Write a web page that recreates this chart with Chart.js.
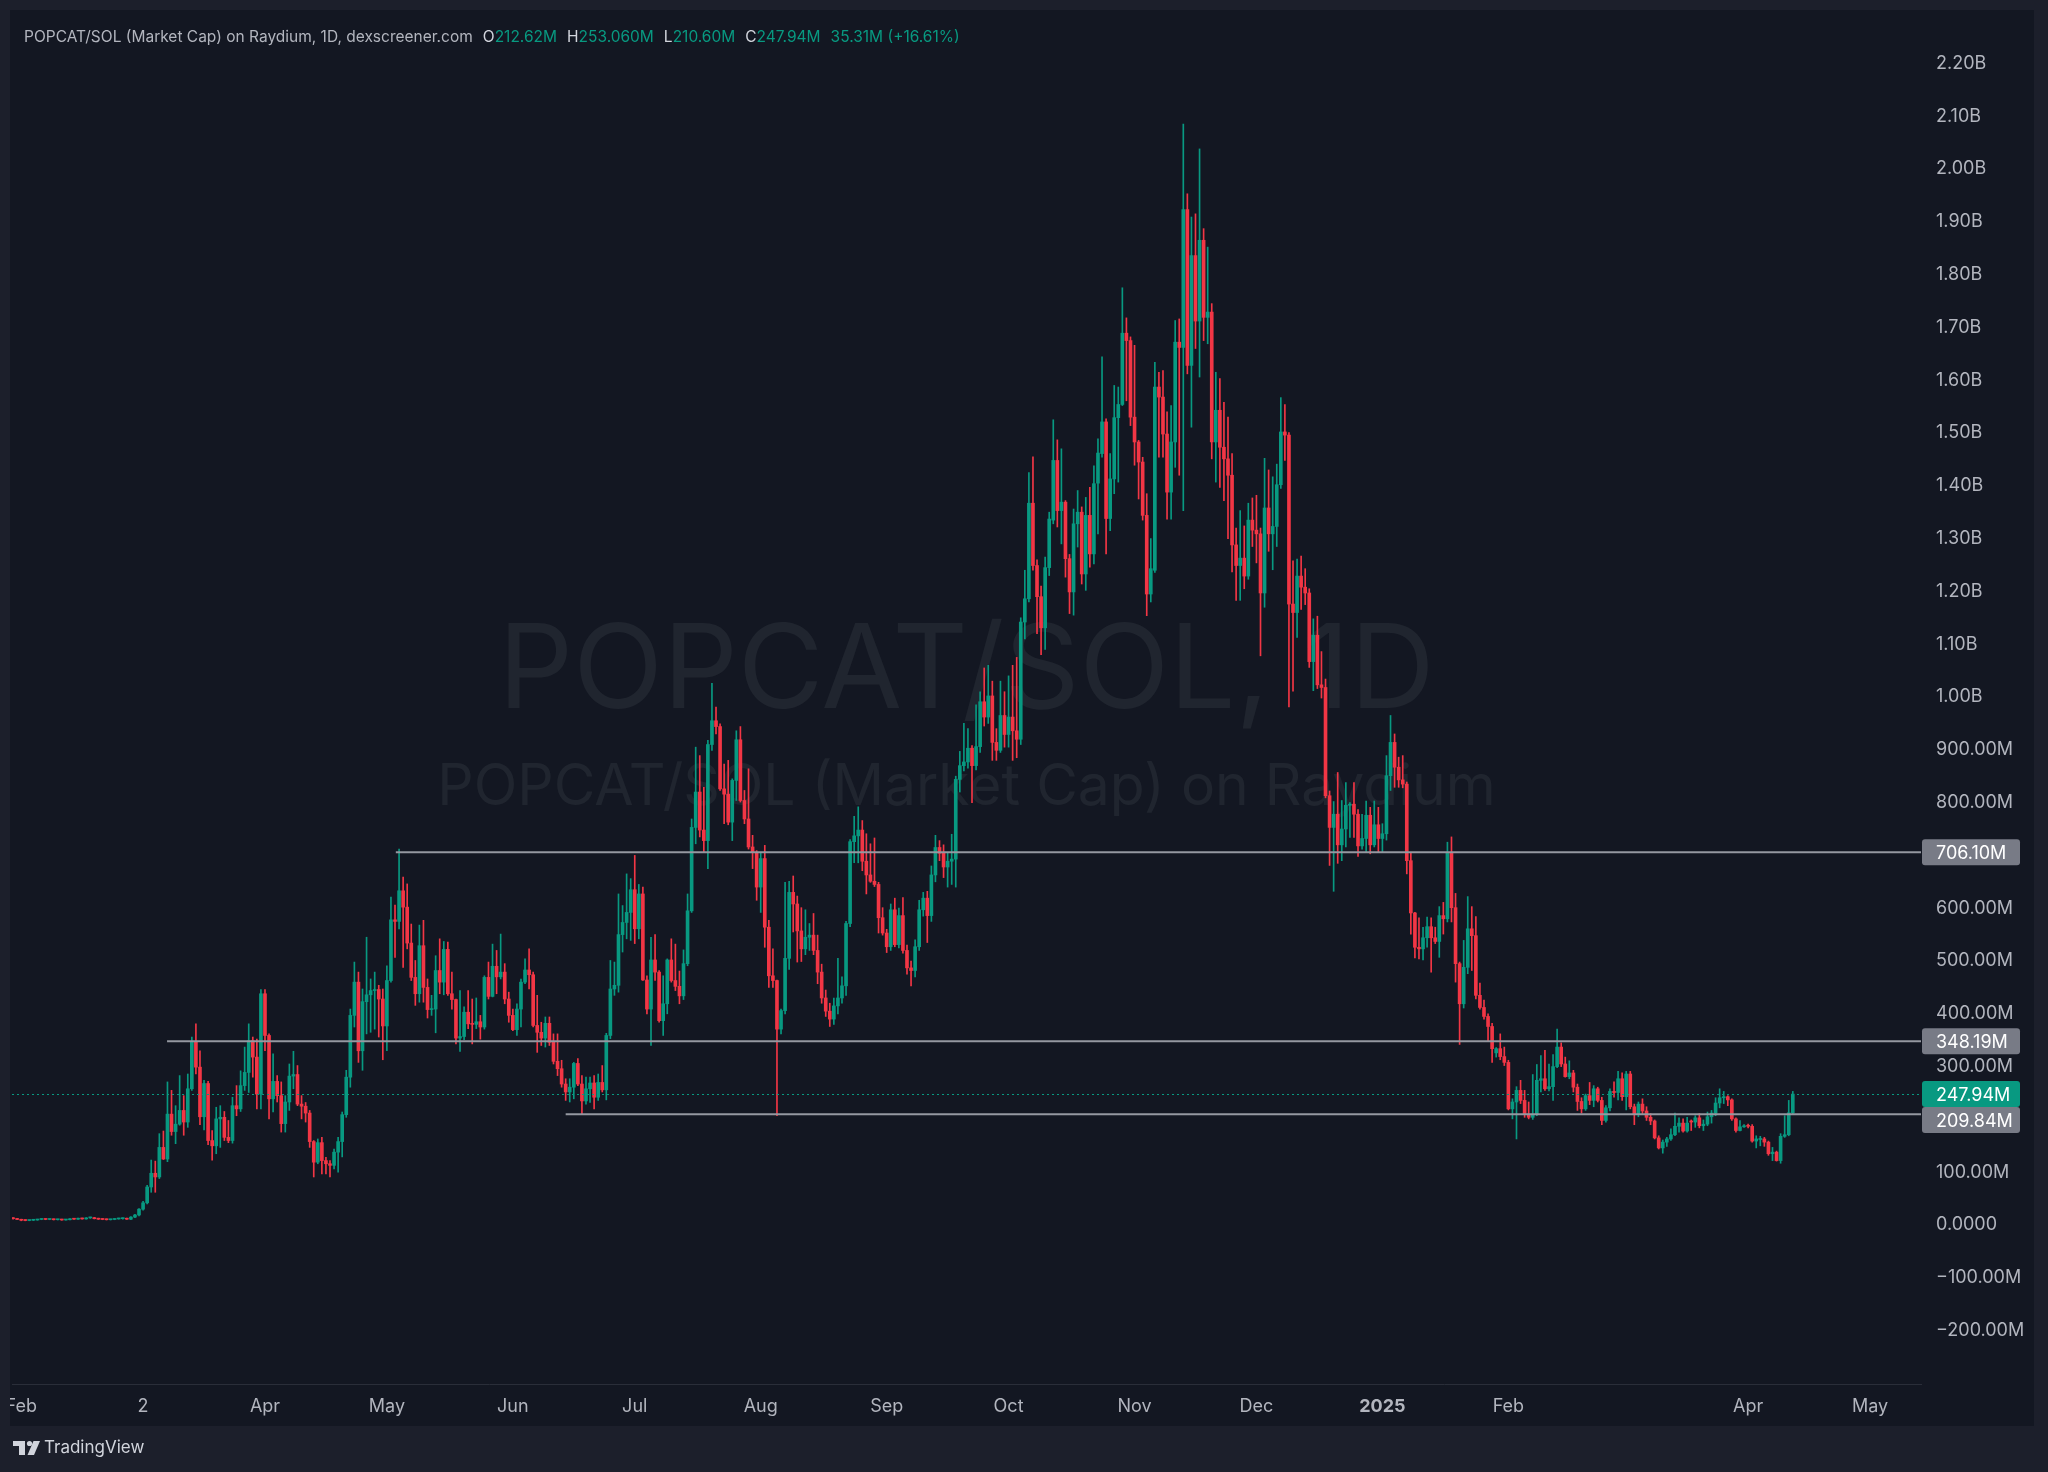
<!DOCTYPE html>
<html lang="en">
<head>
<meta charset="UTF-8">
<title>POPCAT/SOL (Market Cap) on Raydium, 1D</title>
<script src="https://cdn.jsdelivr.net/npm/chart.js"></script>
<style>
  html, body { margin: 0; padding: 0; background: #1c1f2b; }
  canvas { display: block; }
</style>
</head>
<body>
<canvas id="grafico" width="2048" height="1472"></canvas>
<script>
// one candle per day, day 0 = 1 Feb 2024, values in millions
var firstDay = -2;

var open = [
  13,12,10.5,9,8.5,9,9.5,10.5,11.5,10.5,
  11,10,10.5,9.5,10,11.5,11,12.5,11.5,13.5,
  14,12,11,10.5,10,10.5,11.5,12,12.5,11,
  15,19,30,42,72,98,91,147,125,210,
  177,191,217,195,258,346,299,205,268,160,
  150,201,204,166,160,226,220,264,289,349,
  318,248,438,359,239,272,245,192,233,282,
  285,229,225,212,158,119,156,122,116,113,
  138,158,209,280,397,460,330,423,436,444,
  446,428,377,463,578,575,633,602,534,469,
  438,529,450,408,409,482,460,522,438,427,
  354,357,403,381,380,385,375,469,433,490,
  470,479,428,397,370,409,460,483,474,378,
  365,354,382,346,310,296,267,252,261,306,
  267,235,258,269,242,270,256,359,447,454,
  550,573,592,635,561,627,464,409,502,479,
  387,419,502,463,452,434,495,595,753,820,
  748,728,910,955,944,826,816,763,842,919,
  804,769,716,706,640,694,564,472,463,371,
  406,505,630,608,557,523,545,549,520,479,
  430,405,390,415,430,453,571,726,737,748,
  689,663,651,645,582,553,527,597,531,586,
  520,487,482,527,597,619,586,663,715,704,
  678,689,693,844,870,877,903,870,906,991,
  962,1002,914,899,965,929,962,936,920,1142,
  1186,1367,1249,1190,1131,1245,1335,1448,1353,1369,
  1262,1199,1328,1350,1233,1344,1271,1405,1461,1521,
  1338,1413,1529,1554,1689,1675,1530,1483,1445,1344,
  1195,1240,1587,1568,1498,1388,1483,1672,1662,1923,
  1628,1836,1712,1865,1719,1729,1483,1543,1473,1451,
  1420,1288,1249,1263,1229,1335,1316,1309,1197,1358,
  1309,1323,1402,1502,1496,1176,1160,1229,1208,1197,
  1067,1117,1023,1018,813,753,778,720,750,795,
  797,778,718,732,776,720,758,732,741,851,
  914,867,843,835,690,591,526,523,544,565,
  544,537,586,580,706,601,495,419,488,561,
  548,435,412,395,376,326,334,319,308,220,
  233,255,236,210,204,210,274,277,258,262,
  300,337,305,281,288,261,234,220,245,236,
  258,236,198,222,253,251,277,243,286,224,
  209,229,216,204,197,165,146,157,163,171,
  187,193,178,197,195,203,188,191,205,212,
  231,241,243,237,201,179,186,188,187,159,
  162,163,157,135,138,122,168,171,212.62
];
var high = [
  14,12.5,11,10,9.5,10,11,12,12,11.5,
  11.5,11,11,10.5,12,12.5,13,13,14,15,
  14.5,13,12,11.5,11,12,13,13.5,13,16,
  20,31,45,75,123,121,173,178,271,255,
  226,283,245,286,356,381,330,274,272,179,
  223,226,215,198,242,264,292,337,381,356,
  352,446,446,362,324,283,271,245,305,329,
  302,245,232,217,160,163,166,128,122,144,
  166,214,293,409,498,479,447,545,466,479,
  454,447,491,621,606,712,659,646,570,501,
  568,577,466,435,510,542,537,536,479,428,
  444,413,444,428,430,397,472,498,532,520,
  551,495,441,409,419,466,504,523,479,435,
  384,394,394,362,362,312,277,277,308,315,
  283,280,280,283,286,302,363,501,498,627,
  605,665,656,700,645,640,472,545,550,482,
  472,504,542,532,481,521,627,769,905,889,
  829,918,1026,981,949,873,880,845,936,944,
  823,864,738,709,706,719,577,523,464,409,
  649,651,661,623,601,597,571,590,549,494,
  445,420,430,505,470,575,730,774,792,766,
  741,722,733,649,601,560,608,619,600,620,
  530,500,540,615,630,632,680,738,728,720,
  705,740,850,897,950,940,908,985,1010,1055,
  1060,1030,940,1030,1010,1040,1060,1075,1150,1240,
  1425,1455,1260,1210,1265,1350,1525,1487,1470,1372,
  1270,1356,1391,1360,1378,1397,1438,1489,1644,1527,
  1461,1590,1587,1775,1718,1682,1666,1486,1454,1385,
  1300,1634,1615,1618,1540,1552,1713,1716,2085,1953,
  1909,1915,2038,1887,1852,1745,1615,1603,1558,1530,
  1461,1320,1353,1324,1367,1377,1382,1320,1452,1430,
  1417,1441,1567,1554,1501,1258,1261,1267,1243,1205,
  1148,1153,1086,1034,822,802,857,804,838,800,
  838,787,778,803,791,803,791,760,889,965,
  930,886,889,839,706,592,582,564,583,582,
  564,603,611,725,735,628,498,539,622,603,
  584,458,426,400,382,336,362,337,312,239,
  262,274,255,233,285,304,321,331,305,323,
  371,345,318,311,293,267,241,248,270,264,
  261,242,226,258,271,291,288,291,291,229,
  233,239,224,211,199,169,161,166,182,212,
  203,201,204,199,207,211,199,214,217,241,
  258,253,245,239,203,198,190,191,190,169,
  168,166,159,147,140,173,207,236,253.06
];
var low = [
  11,10,8,8,8,8.5,9,10,10,10,
  9.5,9.5,9,9,9.5,10.5,10.5,11,11,12.5,
  11.5,10.5,10,9.5,9.5,10,11,11,10.5,10,
  14,17,28,40,62,62,88,124,120,170,
  154,189,170,185,255,286,190,180,152,123,
  135,147,160,156,155,207,215,255,251,280,
  220,220,330,201,214,233,176,176,217,258,
  226,201,195,147,91,116,97,97,91,106,
  100,129,204,261,375,308,293,362,365,371,
  356,313,330,460,507,561,488,523,463,416,
  422,422,392,397,364,438,436,435,409,343,
  329,351,372,343,372,352,371,428,432,438,
  466,419,384,368,359,375,457,447,375,327,
  340,337,340,305,283,261,236,233,239,264,
  210,229,232,220,236,252,237,353,435,441,
  517,542,539,533,542,463,400,340,463,384,
  359,400,460,444,419,427,491,592,722,735,
  706,675,899,930,823,760,758,728,804,801,
  760,712,675,615,592,526,450,450,207,362,
  400,484,555,498,499,512,520,512,457,420,
  395,376,380,400,420,435,565,686,686,671,
  627,649,641,553,549,516,520,527,525,515,
  475,453,470,520,585,535,575,650,690,658,
  640,645,640,820,860,865,800,862,895,945,
  950,880,880,895,905,905,880,885,910,1110,
  1180,1240,1120,1080,1090,1230,1328,1322,1290,1227,
  1158,1155,1284,1214,1202,1246,1252,1309,1454,1271,
  1315,1385,1407,1552,1561,1514,1439,1375,1335,1154,
  1180,1236,1454,1454,1337,1337,1435,1420,1353,1612,
  1511,1660,1606,1675,1669,1451,1407,1397,1372,1300,
  1237,1183,1183,1205,1223,1285,1254,1078,1170,1276,
  1241,1285,1395,1448,981,1011,1113,1166,1175,1056,
  1012,1016,998,809,681,632,685,690,716,734,
  734,698,712,707,703,716,707,707,729,823,
  829,829,828,665,551,506,504,502,526,479,
  533,507,551,574,574,460,342,411,476,482,
  428,409,390,349,308,318,313,302,218,201,
  163,230,204,201,200,207,252,255,254,236,
  298,300,280,277,252,217,212,217,228,224,
  233,190,195,216,242,237,236,218,220,190,
  205,211,198,190,163,144,136,149,160,169,
  176,176,176,179,185,184,179,188,193,207,
  222,230,226,198,176,178,185,184,157,146,
  150,149,132,122,121,117,166,169,210.60
];
var close = [
  12,10.5,9,8.5,9,9.5,10.5,11.5,10.5,11,
  10,10.5,9.5,10,11.5,11,12.5,11.5,13.5,14,
  12,11,10.5,10,10.5,11.5,12,12.5,11,15,
  19,30,42,72,98,91,147,125,210,177,
  191,217,195,258,346,299,205,268,160,150,
  201,204,166,160,226,220,264,289,349,318,
  248,438,359,239,272,245,192,233,282,285,
  229,225,212,158,119,156,122,116,113,138,
  158,209,280,397,460,330,423,436,444,446,
  428,377,463,578,575,633,602,534,469,438,
  529,450,408,409,482,460,522,438,427,354,
  357,403,381,380,385,375,469,433,490,470,
  479,428,397,370,409,460,483,474,378,365,
  354,382,346,310,296,267,252,261,306,267,
  235,258,269,242,270,256,359,447,454,550,
  573,592,635,561,627,464,409,502,479,387,
  419,502,463,452,434,495,595,753,820,748,
  728,910,955,944,826,816,763,842,919,804,
  769,716,706,640,694,564,472,463,371,406,
  505,630,608,557,523,545,549,520,479,430,
  405,390,415,430,453,571,726,737,748,689,
  663,651,645,582,553,527,597,531,586,520,
  487,482,527,597,619,586,663,715,704,678,
  689,693,844,870,877,903,870,906,991,962,
  1002,914,899,965,929,962,936,920,1142,1186,
  1367,1249,1190,1131,1245,1337,1448,1353,1369,1262,
  1199,1328,1350,1233,1344,1271,1404,1462,1521,1338,
  1413,1529,1554,1689,1675,1530,1483,1445,1344,1195,
  1243,1587,1568,1498,1388,1483,1672,1662,1923,1628,
  1836,1712,1865,1719,1729,1483,1543,1473,1451,1420,
  1288,1249,1263,1229,1335,1316,1309,1197,1358,1309,
  1323,1402,1502,1496,1176,1160,1229,1208,1197,1067,
  1117,1023,1018,813,753,778,720,750,795,797,
  778,718,732,776,720,758,732,741,851,914,
  867,843,835,690,591,526,523,544,565,544,
  537,586,580,706,601,495,419,488,561,548,
  435,412,395,376,334,334,319,308,220,233,
  255,236,210,204,210,274,277,258,262,300,
  337,305,281,288,261,234,220,245,236,258,
  236,198,222,253,251,277,243,286,224,209,
  229,216,204,197,165,146,157,163,171,187,
  193,178,193,195,203,188,191,205,212,231,
  241,243,237,201,179,186,188,187,159,163,
  163,157,135,138,122,168,171,212.6,247.94
];

var priceTicks = [-200, -100, 0, 100, 200, 300, 400, 500, 600, 700, 800, 900, 1000,
  1100, 1200, 1300, 1400, 1500, 1600, 1700, 1800, 1900, 2000, 2100, 2200];
var monthTickDays = [0, 30, 60, 90, 121, 151, 182, 213, 243, 274, 304, 335, 366, 425, 455];
var monthTickLabels = ['Feb', '2', 'Apr', 'May', 'Jun', 'Jul', 'Aug', 'Sep', 'Oct', 'Nov', 'Dec', '2025', 'Feb', 'Apr', 'May'];

// horizontal rays drawn on the chart
var levelValues = [706.10, 348.19, 209.84];
var levelStartDays = [92.2, 35.9, 134.0];
var lastPrice = 247.94;

var headerTitle = 'POPCAT/SOL (Market Cap) on Raydium, 1D, dexscreener.com';
var headerKeys = ['O', 'H', 'L', 'C', ''];
var headerValues = ['212.62M', '253.060M', '210.60M', '247.94M', '35.31M (+16.61%)'];
var watermarkLines = ['POPCAT/SOL, 1D', 'POPCAT/SOL (Market Cap) on Raydium'];

var UP = '#089981', DOWN = '#f23645';
var BG = '#131722', OUTER = '#1c1f2b';
var FONT = 'Inter, "Noto Sans", sans-serif';

var wicks = [], bodies = [], colors = [];
for (var i = 0; i < close.length; i++) {
    wicks.push({ x: firstDay + i, y: [low[i], high[i]] });
    bodies.push({ x: firstDay + i, y: [open[i], close[i]] });
    colors.push(close[i] >= open[i] ? UP : DOWN);
}

function formatPrice(v) {
    if (v === 0) return '0.0000';
    var a = Math.abs(v);
    var s = a >= 1000 ? (a / 1000).toFixed(2) + 'B' : a.toFixed(2) + 'M';
    return (v < 0 ? '\u2212' : '') + s;
}

function roundRect(c, x, y, w, h, r) {
    c.beginPath();
    c.moveTo(x + r, y);
    c.lineTo(x + w - r, y); c.quadraticCurveTo(x + w, y, x + w, y + r);
    c.lineTo(x + w, y + h - r); c.quadraticCurveTo(x + w, y + h, x + w - r, y + h);
    c.lineTo(x + r, y + h); c.quadraticCurveTo(x, y + h, x, y + h - r);
    c.lineTo(x, y + r); c.quadraticCurveTo(x, y, x + r, y);
    c.closePath();
}

var decor = {
    id: 'decor',
    beforeDraw: function (chart) {
        var c = chart.ctx, a = chart.chartArea;
        c.save();
        c.fillStyle = OUTER;
        c.fillRect(0, 0, chart.width, chart.height);
        c.fillStyle = BG;
        c.fillRect(10, 10, 2024, 1416);

        // watermark, fitted to the width it has in the screenshot
        var cx = (a.left + a.right) / 2;
        c.fillStyle = 'rgba(178, 181, 190, 0.085)';
        c.textAlign = 'center';
        c.textBaseline = 'alphabetic';
        var targets = [[936, 708], [1058, 805]];
        for (var k = 0; k < watermarkLines.length; k++) {
            c.font = '100px ' + FONT;
            var w = c.measureText(watermarkLines[k]).width;
            c.font = (100 * targets[k][0] / w).toFixed(1) + 'px ' + FONT;
            c.fillText(watermarkLines[k], cx, targets[k][1]);
        }
        c.restore();
    },
    afterDatasetsDraw: function (chart) {
        var c = chart.ctx, a = chart.chartArea;
        var xs = chart.scales.x, ys = chart.scales.y;
        c.save();
        // current price dotted line
        var py = Math.round(ys.getPixelForValue(lastPrice)) + 0.5;
        c.strokeStyle = UP;
        c.lineWidth = 1;
        c.setLineDash([2, 3]);
        c.beginPath(); c.moveTo(a.left, py); c.lineTo(a.right, py); c.stroke();
        c.setLineDash([]);
        // horizontal rays
        c.strokeStyle = '#9598a1';
        c.lineWidth = 2;
        for (var k = 0; k < levelValues.length; k++) {
            var y = ys.getPixelForValue(levelValues[k]);
            c.beginPath();
            c.moveTo(xs.getPixelForValue(levelStartDays[k]), y);
            c.lineTo(a.right, y);
            c.stroke();
        }
        c.restore();
    },
    afterDraw: function (chart) {
        var c = chart.ctx, a = chart.chartArea, ys = chart.scales.y;
        c.save();
        // hide what spills over the left frame edge
        c.fillStyle = OUTER;
        c.fillRect(0, 0, 10, chart.height);

        // price labels on the axis, pushed apart when they touch
        var items = [];
        for (var k = 0; k < levelValues.length; k++) {
            items.push({ v: levelValues[k], bg: '#787b86' });
        }
        items.push({ v: lastPrice, bg: UP });
        items.forEach(function (it) { it.y = ys.getPixelForValue(it.v); });
        items.sort(function (p, q) { return p.y - q.y; });
        var h = 26;
        for (var k = 1; k < items.length; k++) {
            if (items[k].y - items[k - 1].y < h) items[k].y = items[k - 1].y + h;
        }
        c.font = '18px ' + FONT;
        c.textAlign = 'left';
        c.textBaseline = 'middle';
        items.forEach(function (it) {
            c.fillStyle = it.bg;
            roundRect(c, a.right + 1, it.y - h / 2, 98, h, 3);
            c.fill();
            c.fillStyle = '#ffffff';
            c.fillText(formatPrice(it.v), a.right + 15, it.y + 1);
        });

        // legend line at the top left
        c.font = '15.5px ' + FONT;
        var x = 24, ty = 37;
        c.fillStyle = '#b2b5be';
        c.fillText(headerTitle, x, ty);
        x += c.measureText(headerTitle).width + 10;
        for (var k = 0; k < headerValues.length; k++) {
            if (headerKeys[k]) {
                c.fillStyle = '#d1d4dc';
                c.fillText(headerKeys[k], x, ty);
                x += c.measureText(headerKeys[k]).width;
            }
            c.fillStyle = UP;
            c.fillText(headerValues[k], x, ty);
            x += c.measureText(headerValues[k]).width + 10;
        }

        // footer with the TradingView mark
        c.fillStyle = '#d1d4dc';
        c.fillRect(13, 1441, 12, 5);
        c.fillRect(19, 1441, 6, 14);
        c.beginPath(); c.arc(29.5, 1443.5, 2.6, 0, Math.PI * 2); c.fill();
        c.beginPath();
        c.moveTo(33.5, 1441); c.lineTo(40, 1441); c.lineTo(34, 1455); c.lineTo(27.5, 1455);
        c.closePath(); c.fill();
        c.font = '17px ' + FONT;
        c.fillText('TradingView', 44, 1448);
        c.restore();
    }
};

new Chart(document.getElementById('grafico'), {
    type: 'bar',
    data: {
        datasets: [
            {
                label: 'body',
                data: bodies,
                backgroundColor: colors,
                barThickness: 3,
                minBarLength: 1,
                grouped: false,
                order: 0
            },
            {
                label: 'wick',
                data: wicks,
                backgroundColor: colors,
                barThickness: 1,
                grouped: false,
                order: 1
            }
        ]
    },
    options: {
        responsive: false,
        animation: false,
        events: [],
        layout: { padding: { left: 12, top: 12, right: 14, bottom: 46 } },
        plugins: { legend: { display: false }, tooltip: { enabled: false } },
        scales: {
            x: {
                type: 'linear',
                offset: false,
                min: -2.26,
                max: 467.55,
                grid: { display: false, drawTicks: false },
                border: { display: true, color: '#2a2e39' },
                afterFit: function (s) {
                    s.height = 42;
                    s.paddingLeft = 0;
                    s.paddingRight = 0;
                },
                afterBuildTicks: function (s) {
                    s.ticks = monthTickDays.map(function (d) { return { value: d }; });
                },
                ticks: {
                    autoSkip: false,
                    maxRotation: 0,
                    padding: 12,
                    color: '#b2b5be',
                    font: function (ctx) {
                        return { family: FONT, size: 18, weight: ctx.index === 11 ? 'bold' : 'normal' };
                    },
                    callback: function (v, i) { return monthTickLabels[i]; }
                }
            },
            y: {
                position: 'right',
                min: -301.1,
                max: 2297.3,
                grid: { display: false, drawTicks: false },
                border: { display: false },
                afterFit: function (s) {
                    s.width = 113;
                    s.paddingTop = 0;
                    s.paddingBottom = 0;
                },
                afterBuildTicks: function (s) {
                    s.ticks = priceTicks.map(function (v) { return { value: v }; });
                },
                ticks: {
                    padding: 15,
                    color: '#b2b5be',
                    font: { family: FONT, size: 18 },
                    callback: function (v) { return formatPrice(v); }
                }
            }
        }
    },
    plugins: [decor]
});
</script>
</body>
</html>
